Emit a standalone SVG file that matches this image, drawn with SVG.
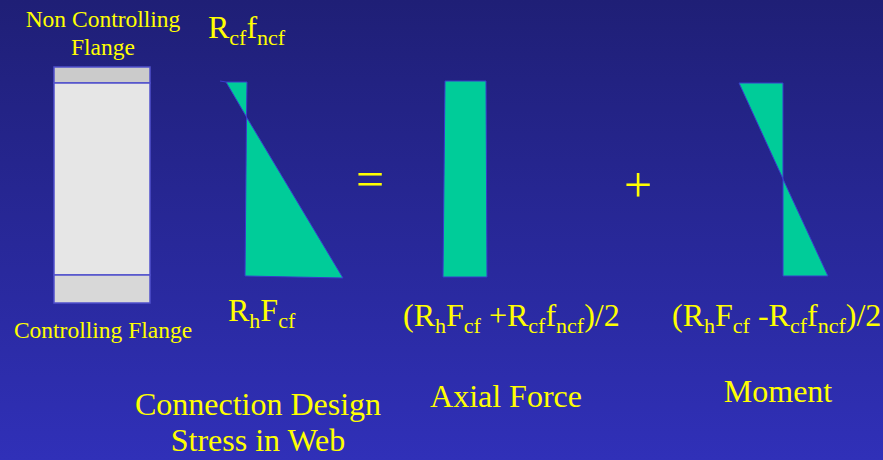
<svg xmlns="http://www.w3.org/2000/svg" width="883" height="460" viewBox="0 0 883 460">
<defs>
<linearGradient id="bg" x1="0" y1="0" x2="0" y2="1">
<stop offset="0" stop-color="#1f1f76"/>
<stop offset="1" stop-color="#3030b8"/>
</linearGradient>
<style>
text{font-family:"Liberation Serif","Times New Roman",serif;fill:#ffff00}
.s20{font-size:23.5px}
.s28{font-size:32px}
.sub{font-size:22px}
.stress{fill:#00cc99;stroke:#3a3acc;stroke-width:1}
.fl{stroke:#5050cc;stroke-width:1.5}
</style>
</defs>
<rect width="883" height="460" fill="url(#bg)"/>
<g id="column">
<rect class="fl" x="54" y="67" width="96" height="16" fill="#cbcbcb"/>
<rect class="fl" x="54" y="83" width="96" height="192" fill="#e6e6e6"/>
<rect class="fl" x="54" y="275" width="96" height="28" fill="#d8d8d8"/>
</g>
<g id="label-noncontrolling">
<text class="s20" x="103" y="27" text-anchor="middle">Non Controlling</text>
<text class="s20" x="103" y="55" text-anchor="middle">Flange</text>
</g>
<g id="label-controlling">
<text class="s20" x="103" y="338" text-anchor="middle">Controlling Flange</text>
</g>
<g id="design-stress">
<polygon class="stress" points="226,82 247,82 246.5,117"/>
<polygon class="stress" points="246.5,117 245,276 343,278"/>
<line x1="220" y1="81" x2="226" y2="82" stroke="#3a3acc" stroke-width="1"/>
<text class="s28" x="208" y="38">R<tspan class="sub" dy="7">cf</tspan><tspan dy="-7">f</tspan><tspan class="sub" dy="7">ncf</tspan></text>
<text class="s28" x="228" y="321">R<tspan class="sub" dy="7">h</tspan><tspan dy="-7">F</tspan><tspan class="sub" dy="7">cf</tspan></text>
<text class="s28" x="258" y="415" text-anchor="middle">Connection Design</text>
<text class="s28" x="258" y="451" text-anchor="middle">Stress in Web</text>
</g>
<g id="equals"><text x="370" y="196" font-size="50" text-anchor="middle">=</text></g>
<g id="axial">
<polygon class="stress" points="445,81 486,81 487,277 443,277"/>
<text class="s28" x="403" y="326">(R<tspan class="sub" dy="7">h</tspan><tspan dy="-7">F</tspan><tspan class="sub" dy="7">cf</tspan><tspan dy="-7"> +R</tspan><tspan class="sub" dy="7">cf</tspan><tspan dy="-7">f</tspan><tspan class="sub" dy="7">ncf</tspan><tspan dy="-7">)/2</tspan></text>
<text class="s28" x="506" y="407" text-anchor="middle">Axial Force</text>
</g>
<g id="plus"><text x="638" y="202" font-size="50" text-anchor="middle">+</text></g>
<g id="moment">
<polygon class="stress" points="739,83 783,83 783,179"/>
<polygon class="stress" points="783,179 783,276 828,276"/>
<text class="s28" x="672" y="326">(R<tspan class="sub" dy="7">h</tspan><tspan dy="-7">F</tspan><tspan class="sub" dy="7">cf</tspan><tspan dy="-7"> -R</tspan><tspan class="sub" dy="7">cf</tspan><tspan dy="-7">f</tspan><tspan class="sub" dy="7">ncf</tspan><tspan dy="-7">)/2</tspan></text>
<text class="s28" x="778" y="402" text-anchor="middle">Moment</text>
</g>
</svg>
